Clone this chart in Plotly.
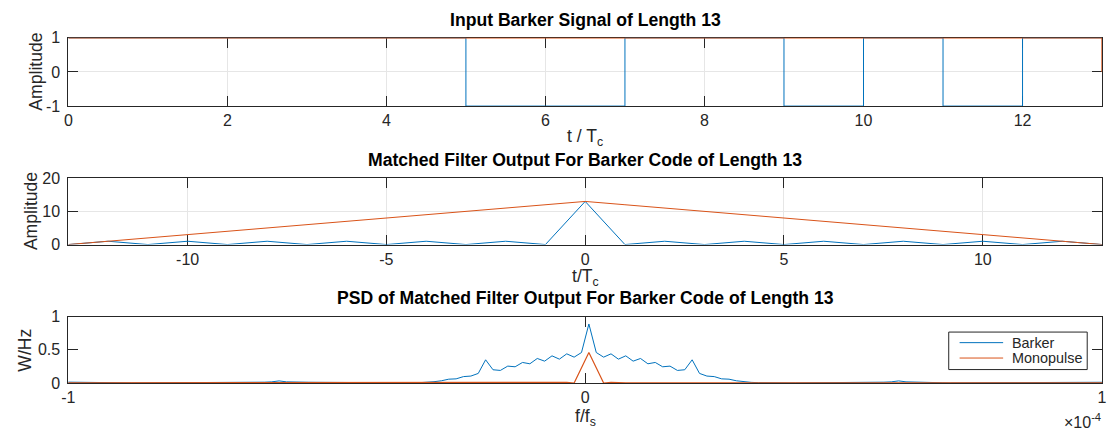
import plotly.graph_objects as go

W, H = 1112, 443
FONT = "Liberation Sans, Arial, Helvetica, sans-serif"
AX = "#262626"
GRID = "#e6e6e6"
BLUE = "#0072BD"
ORANGE = "#D95319"

# ---------------- Panel 1: input signals ----------------
chip_edges = [0, 1, 2, 3, 4, 5, 6, 7, 8, 9, 10, 11, 12, 13]
barker13 = [1, 1, 1, 1, 1, -1, -1, 1, 1, -1, 1, -1, 1]
monopulse13 = [1, 1, 1, 1, 1, 1, 1, 1, 1, 1, 1, 1, 1]
top_xticks = [0, 2, 4, 6, 8, 10, 12]
top_yticks = [-1, 0, 1]
top_yticktext = ["-1", "0", "1"]

# ---------------- Panel 2: matched filter output ----------------
lags = [-13, -12, -11, -10, -9, -8, -7, -6, -5, -4, -3, -2, -1, 0,
        1, 2, 3, 4, 5, 6, 7, 8, 9, 10, 11, 12, 13]
mf_barker = [0, 1, 0, 1, 0, 1, 0, 1, 0, 1, 0, 1, 0, 13,
             0, 1, 0, 1, 0, 1, 0, 1, 0, 1, 0, 1, 0]
mf_mono = [0, 1, 2, 3, 4, 5, 6, 7, 8, 9, 10, 11, 12, 13,
           12, 11, 10, 9, 8, 7, 6, 5, 4, 3, 2, 1, 0]
mid_xticks = [-10, -5, 0, 5, 10]
mid_xticktext = ["-10", "-5", "0", "5", "10"]
mid_yticks = [0, 10, 20]

# ---------------- Panel 3: PSD ----------------
BIN_WIDTH = 1.427e-6  # f/fs per frequency bin
psd_bin = [-71, -70, -69, -68, -67, -66, -65, -64, -63, -62, -61, -60, -59, -58, -57, -56,
           -55, -54, -53, -52, -51, -50, -49, -48, -47, -46, -45, -44, -43, -42, -41, -40,
           -39, -38, -37, -36, -35, -34, -33, -32, -31, -30, -29, -28, -27, -26, -25, -24,
           -23, -22, -21, -20, -19, -18, -17, -16, -15, -14, -13, -12, -11, -10, -9, -8,
           -7, -6, -5, -4, -3, -2, -1, 0, 1, 2, 3, 4, 5, 6, 7, 8, 9, 10, 11, 12, 13, 14,
           15, 16, 17, 18, 19, 20, 21, 22, 23, 24, 25, 26, 27, 28, 29, 30, 31, 32, 33, 34,
           35, 36, 37, 38, 39, 40, 41, 42, 43, 44, 45, 46, 47, 48, 49, 50, 51, 52, 53, 54,
           55, 56, 57, 58, 59, 60, 61, 62, 63, 64, 65, 66, 67, 68, 69, 70]
psd_barker = [
    0.014, 0.012, 0.008, 0.004,
    0.002, 0.002, 0.002, 0.002, 0.002, 0.002, 0.002, 0.002, 0.002, 0.002,
    0.002, 0.002, 0.002, 0.002, 0.002, 0.002, 0.002, 0.002, 0.002,
    0.004, 0.008, 0.010, 0.012, 0.013, 0.018, 0.032, 0.018, 0.013, 0.012,
    0.012, 0.011, 0.010, 0.008, 0.004,
    0.002, 0.002, 0.002, 0.002, 0.002, 0.002, 0.002, 0.002, 0.002, 0.002,
    0.005, 0.010, 0.020, 0.034, 0.058, 0.063, 0.097, 0.105, 0.145, 0.35,
    0.20, 0.19, 0.255, 0.245, 0.31, 0.29, 0.37, 0.33, 0.41, 0.36, 0.44, 0.39, 0.46,
    0.89,
    0.46, 0.39, 0.44, 0.36, 0.41, 0.33, 0.37, 0.29, 0.31, 0.245, 0.255, 0.19, 0.20,
    0.35, 0.145, 0.105, 0.097, 0.063, 0.058, 0.034, 0.020, 0.010, 0.005,
    0.002, 0.002, 0.002, 0.002, 0.002, 0.002, 0.002, 0.002, 0.002, 0.002,
    0.004, 0.008, 0.010, 0.011, 0.012, 0.012, 0.013, 0.018, 0.032, 0.018,
    0.013, 0.012, 0.010, 0.008, 0.004,
    0.002, 0.002, 0.002, 0.002, 0.002, 0.002, 0.002, 0.002, 0.002, 0.002,
    0.002, 0.002, 0.002, 0.002, 0.002, 0.002, 0.002, 0.002, 0.002,
    0.004, 0.008, 0.012]
psd_mono = [
    0.001, 0.001, 0.001, 0.001, 0.001, 0.001, 0.001, 0.001, 0.001, 0.001,
    0.001, 0.001, 0.001, 0.001, 0.001, 0.001, 0.001, 0.001, 0.001, 0.001,
    0.001, 0.001, 0.001, 0.001, 0.001, 0.001, 0.001, 0.001, 0.001, 0.001,
    0.001, 0.001, 0.001, 0.001, 0.001, 0.001, 0.001, 0.001, 0.001, 0.001,
    0.001, 0.001, 0.001, 0.001, 0.001, 0.001, 0.001, 0.001, 0.001, 0.001,
    0.001, 0.001, 0.001, 0.001, 0.001, 0.001, 0.001, 0.001, 0.001, 0.001,
    0.001, 0.001, 0.001, 0.001, 0.001, 0.001, 0.001,
    0.003, 0.012, 0.0, 0.23,
    0.46,
    0.23, 0.0, 0.012, 0.003,
    0.001, 0.001, 0.001, 0.001, 0.001, 0.001, 0.001, 0.001, 0.001, 0.001,
    0.001, 0.001, 0.001, 0.001, 0.001, 0.001, 0.001, 0.001, 0.001, 0.001,
    0.001, 0.001, 0.001, 0.001, 0.001, 0.001, 0.001, 0.001, 0.001, 0.001,
    0.001, 0.001, 0.001, 0.001, 0.001, 0.001, 0.001, 0.001, 0.001, 0.001,
    0.001, 0.001, 0.001, 0.001, 0.001, 0.001, 0.001, 0.001, 0.001, 0.001,
    0.001, 0.001, 0.001, 0.001, 0.001, 0.001, 0.001, 0.001, 0.001, 0.001,
    0.001, 0.001, 0.001, 0.001, 0.001, 0.001]
psd_xticks = [-1e-4, 0, 1e-4]
psd_xticktext = ["-1", "0", "1"]
psd_yticks = [0, 0.5, 1]
psd_yticktext = ["0", "0.5", "1"]
series_names = ["Barker", "Monopulse"]

titles = ["Input Barker Signal of Length 13",
          "Matched Filter Output For Barker Code of Length 13",
          "PSD of Matched Filter Output For Barker Code of Length 13"]

# ---------------- layout geometry (pixels) ----------------
XL, XR = 62, 1107
panels = [(31, 102), (177, 246), (321, 390)]


def px(x):
    return x / W


def py(y):
    return 1 - y / H


psd_freq = [(b + 0.5) * BIN_WIDTH for b in psd_bin]

fig = go.Figure()
fig.add_trace(go.Scatter(x=chip_edges, y=barker13 + [barker13[-1]], mode="lines",
                         line=dict(color=BLUE, width=1, shape="hv"),
                         xaxis="x", yaxis="y", showlegend=False))
fig.add_trace(go.Scatter(x=chip_edges, y=monopulse13 + [0], mode="lines",
                         line=dict(color=ORANGE, width=1.4, shape="hv"),
                         xaxis="x", yaxis="y", showlegend=False))
fig.add_trace(go.Scatter(x=lags, y=mf_barker, mode="lines",
                         line=dict(color=BLUE, width=1),
                         xaxis="x2", yaxis="y2", showlegend=False))
fig.add_trace(go.Scatter(x=lags, y=mf_mono, mode="lines",
                         line=dict(color=ORANGE, width=1),
                         xaxis="x2", yaxis="y2", showlegend=False))
fig.add_trace(go.Scatter(x=psd_freq, y=psd_barker, mode="lines", name=series_names[0],
                         line=dict(color=BLUE, width=1), showlegend=False,
                         xaxis="x3", yaxis="y3"))
fig.add_trace(go.Scatter(x=psd_freq, y=psd_mono, mode="lines", name=series_names[1],
                         line=dict(color=ORANGE, width=1.2), showlegend=False,
                         xaxis="x3", yaxis="y3"))

tickfont = dict(family=FONT, size=16, color=AX)
common = dict(showline=True, linecolor=AX, linewidth=1, mirror="ticks",
              ticks="inside", ticklen=10, tickcolor=AX, tickwidth=1,
              tickfont=tickfont, zeroline=False, layer="below traces",
              gridcolor=GRID, gridwidth=1)

xdom = [px(XL), px(XR)]
fig.update_layout(
    width=W, height=H,
    margin=dict(l=0, r=0, t=0, b=0),
    paper_bgcolor="white", plot_bgcolor="white",
    font=dict(family=FONT, color=AX),
    showlegend=False,
    xaxis=dict(domain=xdom, anchor="y", range=[0, 13], tickvals=top_xticks,
               showgrid=True, **common),
    yaxis=dict(domain=[py(panels[0][1]), py(panels[0][0])], anchor="x", range=[-1, 1],
               tickvals=top_yticks, ticktext=top_yticktext, showgrid=True,
               ticklabelstandoff=4, **common),
    xaxis2=dict(domain=xdom, anchor="y2", range=[-13, 13], tickvals=mid_xticks,
                ticktext=mid_xticktext, showgrid=True, **common),
    yaxis2=dict(domain=[py(panels[1][1]), py(panels[1][0])], anchor="x2", range=[0, 20],
                tickvals=mid_yticks, showgrid=True, ticklabelstandoff=4, **common),
    xaxis3=dict(domain=xdom, anchor="y3", range=[-1e-4, 1e-4], tickvals=psd_xticks,
                ticktext=psd_xticktext, showgrid=False, **common),
    yaxis3=dict(domain=[py(panels[2][1]), py(panels[2][0])], anchor="x3", range=[0, 1],
                tickvals=psd_yticks, ticktext=psd_yticktext, showgrid=False,
                ticklabelstandoff=4, **common),
)

# ---------------- legend box (MATLAB style) ----------------
LG_L, LG_R, LG_T, LG_B = 952, 1092, 337, 376
legend_rows = [348, 364]
shapes = [dict(type="rect", xref="paper", yref="paper",
               x0=px(LG_L), x1=px(LG_R), y0=py(LG_B), y1=py(LG_T),
               line=dict(color=AX, width=1), fillcolor="white", layer="above")]
ann = []
for name, color, yrow in zip(series_names, [BLUE, ORANGE], legend_rows):
    shapes.append(dict(type="line", xref="paper", yref="paper",
                       x0=px(963), x1=px(1007), y0=py(yrow), y1=py(yrow),
                       line=dict(color=color, width=1), layer="above"))
    ann.append(dict(text=name, x=px(1014), y=py(yrow), xref="paper", yref="paper",
                    xanchor="left", yanchor="middle", showarrow=False,
                    font=dict(family=FONT, size=14.4, color=AX)))
fig.update_layout(shapes=shapes)

xc = px((XL + XR) / 2)
for (top, bot), t in zip(panels, titles):
    ann.append(dict(text="<b>" + t + "</b>", x=xc, y=py(top - 19), xref="paper", yref="paper",
                    xanchor="center", yanchor="middle", showarrow=False,
                    font=dict(family=FONT, size=17.6, color="black")))
xlabels = [("t / T<sub>c</sub>", 135), ("t/T<sub>c</sub>", 280), ("f/f<sub>s</sub>", 426)]
for t, y in xlabels:
    ann.append(dict(text=t, x=xc, y=py(y), xref="paper", yref="paper",
                    xanchor="center", yanchor="middle", showarrow=False,
                    font=dict(family=FONT, size=17.6, color=AX)))
ylabels = [("Amplitude", 29, 66.5), ("Amplitude", 25, 211.5), ("W/Hz", 18, 355.5)]
for t, x, y in ylabels:
    ann.append(dict(text=t, x=px(x), y=py(y), xref="paper", yref="paper",
                    xanchor="center", yanchor="middle", showarrow=False, textangle=-90,
                    font=dict(family=FONT, size=17.6, color=AX)))
ann.append(dict(text="\u00d710<sup>-4</sup>", x=px(1108), y=py(429), xref="paper", yref="paper",
                xanchor="right", yanchor="middle", showarrow=False,
                font=dict(family=FONT, size=16, color=AX)))
fig.update_layout(annotations=ann)

fig.write_html("out.html")
